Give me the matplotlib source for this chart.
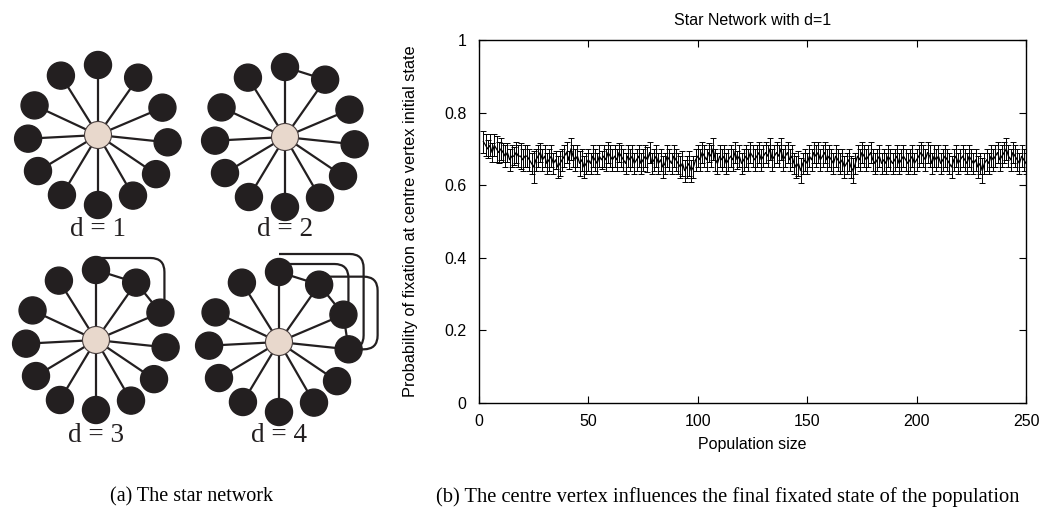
import numpy as np
import matplotlib
matplotlib.use('Agg')
import matplotlib.pyplot as plt
from matplotlib.patches import Circle, PathPatch
from matplotlib.path import Path

# ===== data =====
# leaf angles (degrees) of the 12 outer vertices, index 0 is the top one
leaf_angles = [90, 55, 23, -6, -34, -60, -90, -121, -149, -177, 155, 122]
d_labels = ['d = 1', 'd = 2', 'd = 3', 'd = 4']
# straight extra edges between leaves for each d
extra_lines = [[], [(0, 1)], [(0, 1), (1, 2)], [(0, 1), (1, 2), (2, 3)]]
# looping edges: (from, to, rise above 'from', reach right of 'to')
extra_loops = [[], [], [(0, 2, 12, 4)], [(0, 2, 8, 5), (0, 3, 18, 15), (1, 3, 8, 29)]]

pop_size = np.arange(2, 251)
p_fix = [
    0.72, 0.71, 0.70, 0.71, 0.69, 0.71, 0.70, 0.69, 0.70, 0.69,
    0.68, 0.69, 0.67, 0.68, 0.68, 0.69, 0.68, 0.68, 0.67, 0.68,
    0.68, 0.67, 0.66, 0.65, 0.67, 0.68, 0.69, 0.67, 0.68, 0.66,
    0.67, 0.68, 0.66, 0.67, 0.65, 0.66, 0.67, 0.68, 0.69, 0.67,
    0.70, 0.68, 0.67, 0.68, 0.66, 0.67, 0.65, 0.66, 0.67, 0.66,
    0.68, 0.67, 0.66, 0.68, 0.67, 0.68, 0.67, 0.69, 0.68, 0.67,
    0.68, 0.67, 0.69, 0.68, 0.67, 0.66, 0.68, 0.67, 0.68, 0.66,
    0.67, 0.68, 0.66, 0.67, 0.68, 0.67, 0.69, 0.66, 0.67, 0.68,
    0.66, 0.67, 0.65, 0.66, 0.68, 0.67, 0.66, 0.68, 0.67, 0.66,
    0.65, 0.66, 0.64, 0.65, 0.66, 0.64, 0.65, 0.67, 0.68, 0.67,
    0.69, 0.68, 0.67, 0.69, 0.68, 0.70, 0.67, 0.66, 0.68, 0.67,
    0.68, 0.66, 0.67, 0.68, 0.67, 0.69, 0.67, 0.68, 0.66, 0.67,
    0.68, 0.67, 0.69, 0.68, 0.67, 0.68, 0.69, 0.67, 0.68, 0.69,
    0.68, 0.70, 0.67, 0.68, 0.69, 0.68, 0.70, 0.67, 0.68, 0.69,
    0.67, 0.68, 0.66, 0.65, 0.66, 0.64, 0.66, 0.67, 0.66, 0.68,
    0.67, 0.69, 0.68, 0.69, 0.67, 0.68, 0.69, 0.67, 0.68, 0.67,
    0.66, 0.68, 0.67, 0.66, 0.67, 0.65, 0.66, 0.67, 0.65, 0.64,
    0.66, 0.68, 0.67, 0.69, 0.68, 0.67, 0.68, 0.69, 0.67, 0.66,
    0.67, 0.68, 0.66, 0.67, 0.66, 0.68, 0.67, 0.66, 0.67, 0.68,
    0.66, 0.67, 0.68, 0.67, 0.66, 0.67, 0.68, 0.66, 0.67, 0.68,
    0.69, 0.68, 0.67, 0.69, 0.68, 0.66, 0.68, 0.67, 0.68, 0.66,
    0.67, 0.68, 0.67, 0.66, 0.65, 0.67, 0.68, 0.66, 0.67, 0.68,
    0.67, 0.66, 0.68, 0.67, 0.66, 0.67, 0.65, 0.66, 0.64, 0.66,
    0.67, 0.66, 0.68, 0.67, 0.68, 0.69, 0.67, 0.68, 0.69, 0.70,
    0.68, 0.67, 0.69, 0.68, 0.67, 0.66, 0.68, 0.67, 0.66]
p_err = [
    0.030, 0.030, 0.025, 0.030, 0.025, 0.030, 0.035, 0.030, 0.030, 0.025,
    0.030, 0.025, 0.030, 0.030, 0.025, 0.030, 0.030, 0.035, 0.030, 0.030,
    0.030, 0.030, 0.030, 0.045, 0.030, 0.030, 0.025, 0.030, 0.030, 0.030,
    0.030, 0.030, 0.030, 0.025, 0.030, 0.035, 0.030, 0.030, 0.030, 0.025,
    0.030, 0.030, 0.030, 0.030, 0.035, 0.030, 0.030, 0.030, 0.030, 0.030,
    0.030, 0.030, 0.030, 0.030, 0.025, 0.030, 0.030, 0.030, 0.030, 0.030,
    0.030, 0.030, 0.025, 0.030, 0.030, 0.030, 0.030, 0.030, 0.030, 0.030,
    0.030, 0.030, 0.030, 0.030, 0.030, 0.035, 0.030, 0.030, 0.030, 0.030,
    0.030, 0.030, 0.030, 0.030, 0.030, 0.030, 0.030, 0.030, 0.030, 0.030,
    0.030, 0.035, 0.030, 0.030, 0.035, 0.030, 0.030, 0.030, 0.030, 0.030,
    0.030, 0.030, 0.030, 0.025, 0.030, 0.030, 0.030, 0.030, 0.030, 0.030,
    0.030, 0.030, 0.030, 0.030, 0.030, 0.030, 0.025, 0.030, 0.030, 0.030,
    0.030, 0.030, 0.030, 0.030, 0.030, 0.030, 0.030, 0.030, 0.030, 0.030,
    0.030, 0.030, 0.030, 0.030, 0.030, 0.030, 0.030, 0.030, 0.030, 0.030,
    0.030, 0.030, 0.030, 0.030, 0.035, 0.035, 0.030, 0.030, 0.030, 0.030,
    0.030, 0.030, 0.030, 0.030, 0.030, 0.030, 0.030, 0.030, 0.030, 0.030,
    0.030, 0.030, 0.030, 0.030, 0.030, 0.030, 0.030, 0.030, 0.030, 0.035,
    0.030, 0.030, 0.030, 0.030, 0.030, 0.030, 0.030, 0.030, 0.030, 0.030,
    0.030, 0.030, 0.030, 0.030, 0.030, 0.030, 0.030, 0.030, 0.030, 0.030,
    0.030, 0.030, 0.030, 0.030, 0.030, 0.030, 0.030, 0.030, 0.030, 0.030,
    0.030, 0.030, 0.030, 0.030, 0.030, 0.030, 0.030, 0.030, 0.030, 0.030,
    0.030, 0.030, 0.030, 0.030, 0.030, 0.030, 0.030, 0.030, 0.030, 0.030,
    0.030, 0.030, 0.030, 0.030, 0.030, 0.030, 0.030, 0.030, 0.035, 0.030,
    0.030, 0.030, 0.030, 0.030, 0.030, 0.030, 0.030, 0.030, 0.030, 0.030,
    0.030, 0.030, 0.030, 0.030, 0.030, 0.030, 0.030, 0.030, 0.030]
x_ticks = [0, 50, 100, 150, 200, 250]
y_ticks = [0, 0.2, 0.4, 0.6, 0.8, 1]
y_tick_labels = ['0', '0.2', '0.4', '0.6', '0.8', '1']

# ===== layout (pixels) =====
W, H = 1042, 519
centres = [(98, 135), (285, 137), (96, 340), (279, 342)]
label_y = [230, 230, 435, 435]
spoke = 70
node_r = 13.5
hub_r = 13.5
dark = '#231f20'
sans = 'Liberation Sans'
serif = 'Liberation Serif'

fig = plt.figure(figsize=(W / 100, H / 100), dpi=100)

# left panel in pixel coordinates
ax0 = fig.add_axes([0, 0, 1, 1])
ax0.set_xlim(0, W)
ax0.set_ylim(H, 0)
ax0.axis('off')


def rounded_path(pts, r):
    verts = [pts[0]]
    codes = [Path.MOVETO]
    for k in range(1, len(pts) - 1):
        p0, p1, p2 = map(np.array, (pts[k - 1], pts[k], pts[k + 1]))
        a = p1 + (p0 - p1) / np.linalg.norm(p0 - p1) * r
        b = p1 + (p2 - p1) / np.linalg.norm(p2 - p1) * r
        verts += [tuple(a), tuple(p1), tuple(b)]
        codes += [Path.LINETO, Path.CURVE3, Path.CURVE3]
    verts.append(pts[-1])
    codes.append(Path.LINETO)
    return Path(verts, codes)


for k, (cx, cy) in enumerate(centres):
    leaves = [(cx + spoke * np.cos(np.radians(a)), cy - spoke * np.sin(np.radians(a)))
              for a in leaf_angles]
    for lx, ly in leaves:
        ax0.plot([cx, lx], [cy, ly], color=dark, lw=1.6, zorder=1)
    for i, j in extra_lines[k]:
        ax0.plot([leaves[i][0], leaves[j][0]], [leaves[i][1], leaves[j][1]],
                 color=dark, lw=1.6, zorder=1)
    for i, j, rise, reach in extra_loops[k]:
        xa, ya = leaves[i]
        xb, yb = leaves[j]
        pts = [(xa, ya - rise), (xb + reach, ya - rise), (xb + reach, yb), (xb, yb)]
        ax0.add_patch(PathPatch(rounded_path(pts, 14), fill=False, ec=dark, lw=1.6, zorder=1))
    for lx, ly in leaves:
        ax0.add_patch(Circle((lx, ly), node_r, color=dark, zorder=2))
    ax0.add_patch(Circle((cx, cy), hub_r, fc='#e8d8cc', ec='#4a4040', lw=0.8, zorder=3))
    ax0.text(cx, label_y[k], d_labels[k], ha='center', va='center',
             fontsize=19.5, family=serif, color=dark)

ax0.text(192, 497, '(a) The star network', ha='center', va='center',
         fontsize=14.5, family=serif)
ax0.text(728, 497, '(b) The centre vertex influences the final fixated state of the population',
         ha='center', va='center', fontsize=14.8, family=serif)

# right panel
ax = fig.add_axes([479 / W, 1 - 403 / H, (1026 - 479) / W, (403 - 40) / H])
ax.errorbar(pop_size, p_fix, yerr=p_err, color='black', lw=0.9, elinewidth=0.7,
            capsize=2, capthick=0.7)
ax.set_xlim(0, 250)
ax.set_ylim(0, 1)
ax.set_xticks(x_ticks)
ax.set_yticks(y_ticks)
ax.set_yticklabels(y_tick_labels)
ax.tick_params(direction='in', length=5, width=0.8, top=True, right=True,
               labelsize=11.5)
ax.tick_params(axis='y', pad=9)
ax.tick_params(axis='x', pad=8)
for lab in ax.get_xticklabels() + ax.get_yticklabels():
    lab.set_family(sans)
for s in ax.spines.values():
    s.set_linewidth(1.0)
ax.set_title('Star Network with d=1', fontsize=11.5, family=sans, y=1.055, va='center', pad=0)
ax.set_xlabel('Population size', fontsize=11.5, family=sans, va='center')
ax.xaxis.set_label_coords(0.5, -(444 - 403) / 363)
ax.set_ylabel('Probability of fixation at centre vertex initial state', fontsize=11.8,
              family=sans, va='center')
ax.yaxis.set_label_coords(-(479 - 410) / 547, 0.5)

fig.savefig('out.png', dpi=100)
